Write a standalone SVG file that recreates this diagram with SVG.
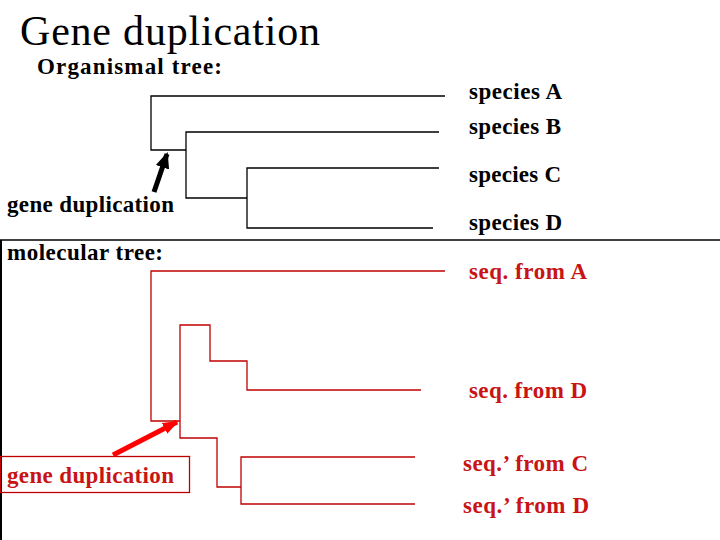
<svg xmlns="http://www.w3.org/2000/svg" width="720" height="540" viewBox="0 0 720 540">
<style>
.t{font-family:"Liberation Serif","Times New Roman",serif;}
.b{font-family:"Liberation Serif","Times New Roman",serif;font-weight:bold;font-size:23px;}
.k{fill:#000;}
.r{fill:#c81414;}
.bl{fill:none;stroke:#000;stroke-width:1.3;}
.rl{fill:none;stroke:#c00000;stroke-width:1.3;}
</style>
<defs>
<marker id="ahk" markerUnits="userSpaceOnUse" markerWidth="16" markerHeight="16" refX="14" refY="8" orient="auto">
<polygon points="0,1 16,8 0,15" fill="#000"/>
</marker>
<marker id="ahr" markerUnits="userSpaceOnUse" markerWidth="16" markerHeight="16" refX="14" refY="8" orient="auto">
<polygon points="0,2 16,8 0,14" fill="#ff0000"/>
</marker>
</defs>
<rect width="720" height="540" fill="#fff"/>
<text id="title" class="t k" x="20" y="45" font-size="42" textLength="300" lengthAdjust="spacing">Gene duplication</text>
<text id="org-label" class="b k" x="37" y="74" textLength="185" lengthAdjust="spacing">Organismal tree:</text>
<text id="dup-label-black" class="b k" x="7" y="212" textLength="167" lengthAdjust="spacing">gene duplication</text>
<g id="spA"><text class="b k" x="469" y="99" textLength="93" lengthAdjust="spacing">species A</text></g>
<g id="spB"><text class="b k" x="469" y="134" textLength="92" lengthAdjust="spacing">species B</text></g>
<g id="spC"><text class="b k" x="469" y="182" textLength="92" lengthAdjust="spacing">species C</text></g>
<g id="spD"><text class="b k" x="469" y="230" textLength="93" lengthAdjust="spacing">species D</text></g>
<g id="divider">
<line x1="0" y1="240" x2="720" y2="240" stroke="#000" stroke-width="1.5"/>
<line x1="1" y1="240" x2="1" y2="540" stroke="#000" stroke-width="2"/>
</g>
<text id="mol-label" class="b k" x="7" y="260" textLength="156" lengthAdjust="spacing">molecular tree:</text>
<g id="seqA"><text class="b r" x="469" y="279" textLength="118" lengthAdjust="spacing">seq. from A</text></g>
<g id="seqD"><text class="b r" x="469" y="398" textLength="118" lengthAdjust="spacing">seq. from D</text></g>
<g id="seqC2"><text class="b r" x="463" y="471" textLength="125" lengthAdjust="spacing">seq.’ from C</text></g>
<g id="seqD2"><text class="b r" x="463" y="513" textLength="126" lengthAdjust="spacing">seq.’ from D</text></g>
<g id="dup-box">
<rect x="0.5" y="456.5" width="189" height="36" fill="none" stroke="#c00000" stroke-width="1.3"/>
<text class="b r" x="7" y="483" textLength="167" lengthAdjust="spacing">gene duplication</text>
</g>
<g id="connectors">
<path class="bl" d="M445,96 H151 V150 H186 M439,132 H186 V198 H247 M439,168 H247 V228 H433"/>
<path class="rl" d="M445,271 H151 V421 H180 M421,390 H247 V361 H210 V325 H180 V438 H217 V487 H241 M415,457 H241 V504 H415"/>
<line x1="154" y1="192" x2="167" y2="154" stroke="#000" stroke-width="5" marker-end="url(#ahk)"/>
<line x1="113" y1="455" x2="177" y2="422" stroke="#ff0000" stroke-width="5" marker-end="url(#ahr)"/>
</g>
</svg>
